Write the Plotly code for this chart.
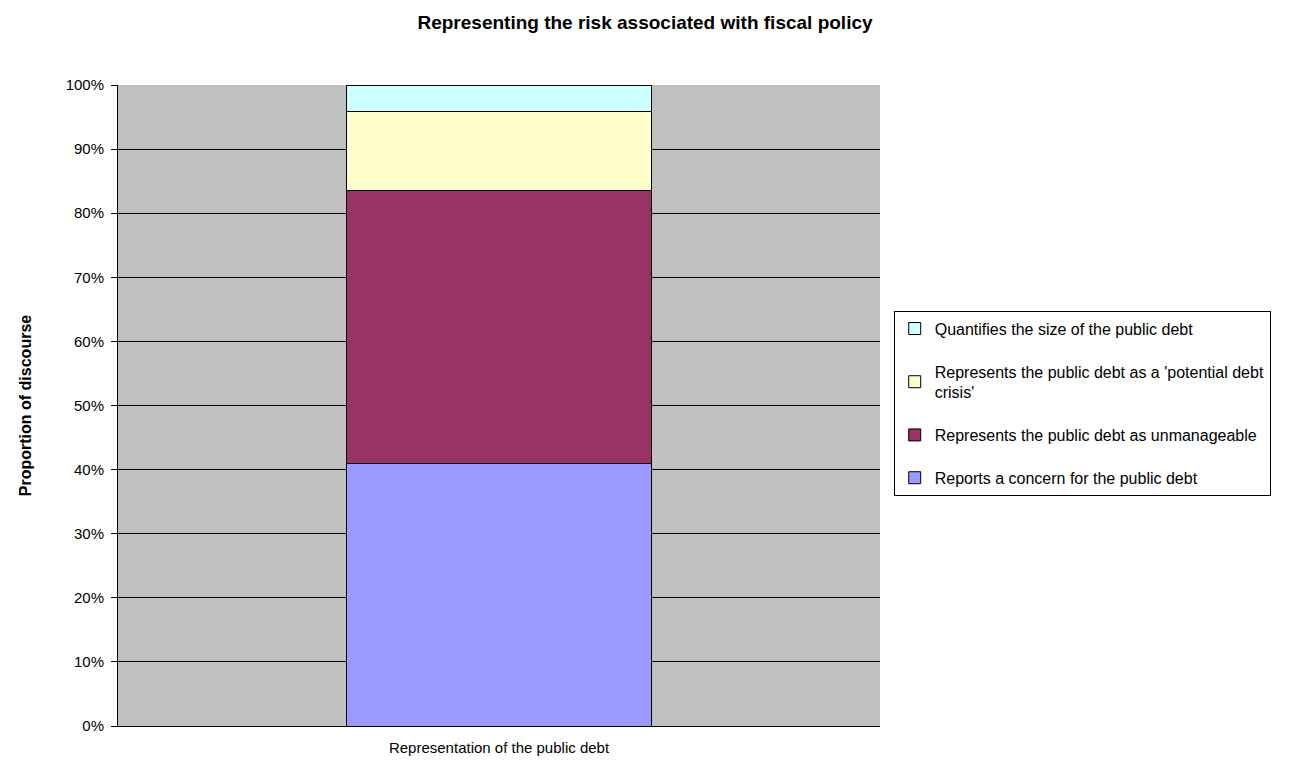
import plotly.graph_objects as go

# Stacked shares of discourse (percent), bottom to top
category = ["Representation of the public debt"]
series_names = [
    "Reports a concern for the public debt",
    "Represents the public debt as unmanageable",
    "Represents the public debt as a 'potential debt<br>crisis'",
    "Quantifies the size of the public debt",
]
series_values = [40.9, 42.7, 12.2, 4.2]
series_colors = ["#9999FF", "#993366", "#FFFFCC", "#CCFFFF"]
y_ticks = [0, 10, 20, 30, 40, 50, 60, 70, 80, 90, 100]
y_tick_labels = [f"{v}%" for v in y_ticks]

FONT = "Liberation Sans, Arial, sans-serif"

fig = go.Figure()
n = len(series_names)
for i, (name, val, col) in enumerate(zip(series_names, series_values, series_colors)):
    fig.add_trace(go.Bar(
        x=category, y=[val], name=name,
        marker=dict(color=col, line=dict(color="black", width=1)),
        width=0.4, legendgroup=f"g{i}", legendrank=n - i,
        hovertemplate="%{y:.1f}%<extra></extra>",
    ))

fig.update_layout(
    barmode="stack",
    width=1290, height=763,
    margin=dict(l=118, r=410, t=85, b=37),
    paper_bgcolor="white",
    plot_bgcolor="#C0C0C0",
    font=dict(family=FONT, size=15, color="black"),
    title=dict(
        text="<b>Representing the risk associated with fiscal policy</b>",
        x=0.5, xanchor="center", y=1 - 22 / 763, yanchor="middle",
        font=dict(family=FONT, size=19, color="black"),
    ),
    legend=dict(
        x=1.018, xanchor="left", y=0.648, yanchor="top",
        traceorder="grouped", tracegroupgap=19,
        bordercolor="black", borderwidth=1, bgcolor="white",
        font=dict(family=FONT, size=16, color="black"),
        itemwidth=30,
    ),
    showlegend=True,
)

fig.update_xaxes(
    range=[-0.5, 0.5],
    showline=True, linecolor="black", linewidth=1,
    showgrid=False, ticks="", tickfont=dict(size=15),
    ticklabelstandoff=8, automargin=False,
)
fig.update_yaxes(
    range=[0, 100],
    tickvals=y_ticks, ticktext=y_tick_labels,
    showline=True, linecolor="black", linewidth=1,
    showgrid=True, gridcolor="black", gridwidth=1,
    ticks="outside", ticklen=6, tickcolor="black",
    tickfont=dict(size=15), ticklabelstandoff=4,
    title=dict(text="<b>Proportion of discourse</b>", font=dict(size=16), standoff=30),
    zeroline=False, automargin=False,
)

fig.write_html("out.html")
